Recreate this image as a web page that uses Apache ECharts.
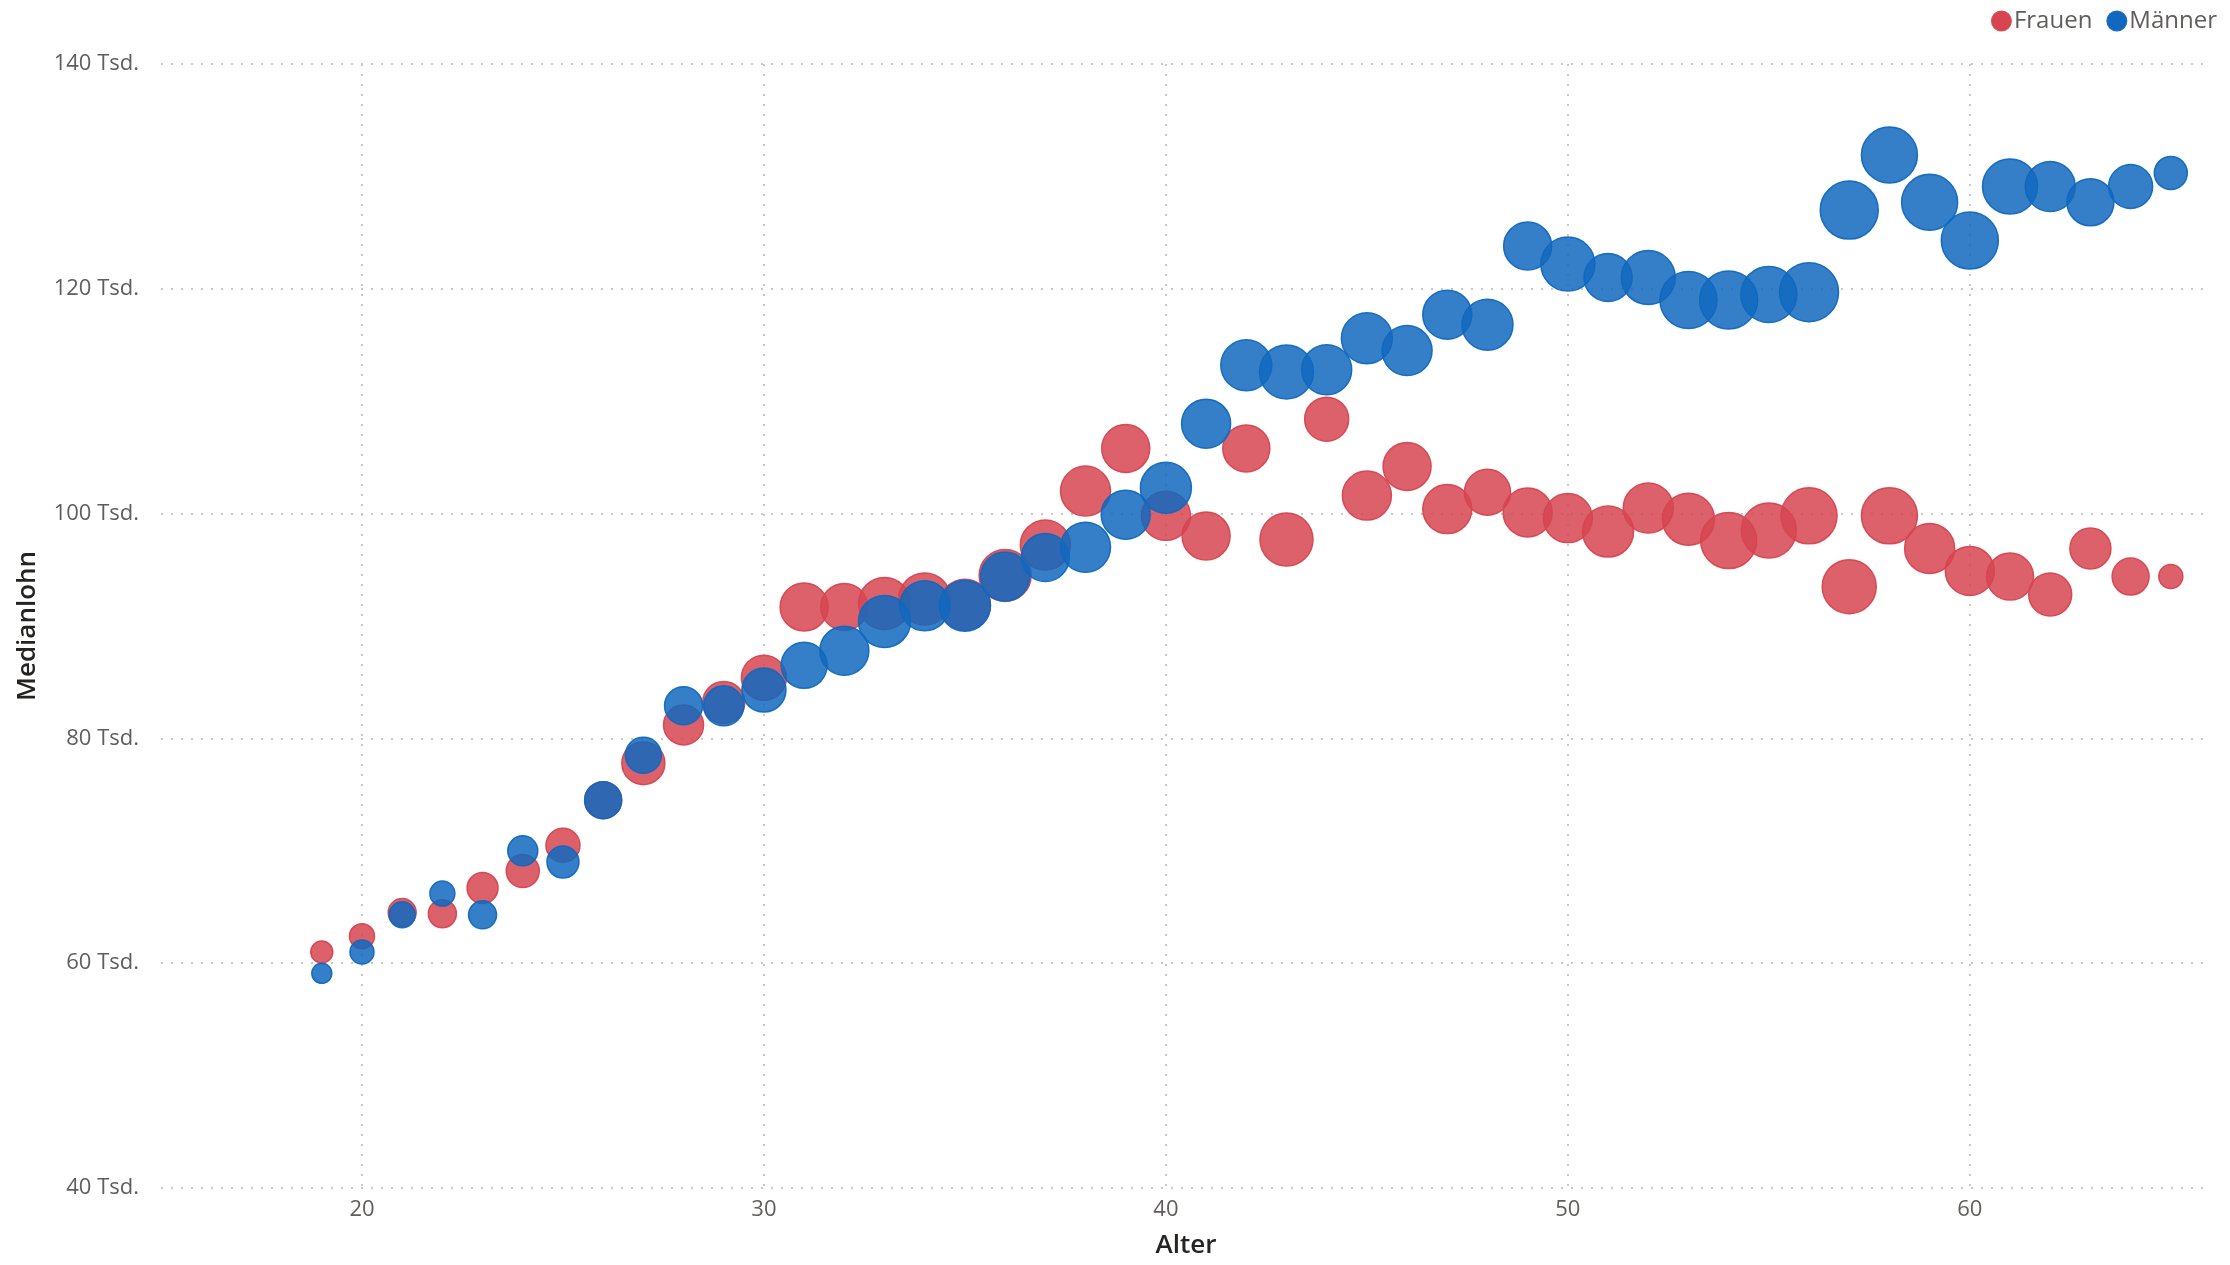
<!DOCTYPE html>
<html>
<head>
<meta charset="utf-8">
<title>Medianlohn nach Alter</title>
<script src="https://cdn.jsdelivr.net/npm/echarts@6/dist/echarts.min.js"></script>
<style>
  html, body { margin: 0; padding: 0; background: #fff; }
  #chart { width: 2230px; height: 1265px; }
</style>
</head>
<body>
<div id="chart"></div>
<script>
// Alter (Jahre)
const alter = [19, 20, 21, 22, 23, 24, 25, 26, 27, 28, 29, 30, 31, 32, 33, 34, 35, 36, 37, 38, 39, 40, 41, 42,
  43, 44, 45, 46, 47, 48, 49, 50, 51, 52, 53, 54, 55, 56, 57, 58, 59, 60, 61, 62, 63, 64, 65]

// Medianlohn in Tsd.
const lohnFrauen = [61.0, 62.4, 64.5, 64.4, 66.7, 68.2, 70.5, 74.5, 77.8, 81.2, 83.2, 85.4, 91.7, 91.7, 92.0, 92.4,
  91.9, 94.5, 97.2, 102.0, 105.8, 99.8, 98.0, 105.8, 97.7, 108.4, 101.6, 104.2, 100.4, 101.9, 100.1, 99.6, 98.4,
  100.5, 99.5, 97.6, 98.5, 99.8, 93.5, 99.8, 96.9, 94.9, 94.4, 92.8, 96.9, 94.4, 94.4]
const lohnMaenner = [59.1, 61.0, 64.3, 66.2, 64.3, 70.0, 69.0, 74.5, 78.5, 82.9, 82.9, 84.3, 86.5, 87.8, 90.4, 91.8,
  91.8, 94.4, 96.1, 97.0, 99.9, 102.3, 108.0, 113.2, 112.6, 112.8, 115.6, 114.5, 117.7, 116.8, 123.8, 122.2, 121.0,
  121.0, 119.0, 119.0, 119.5, 119.7, 127.0, 131.9, 127.7, 124.3, 129.1, 129.1, 127.7, 129.1, 130.3]

// Blasengrösse (relativer Wert, aus dem Bild geschätzt)
const gewichtFrauen = [22, 25, 28, 28, 31, 33, 34, 37, 43, 40, 42, 45, 48, 47, 52, 52, 51, 52, 50, 50, 48, 49, 48, 47,
  53, 44, 49, 48, 49, 46, 49, 49, 51, 50, 52, 56, 55, 56, 54, 56, 50, 49, 47, 43, 41, 37, 24]
const gewichtMaenner = [20, 24, 26, 25, 28, 30, 32, 37, 36, 38, 40, 44, 46, 49, 52, 50, 51, 49, 48, 50, 49, 51, 49, 51,
  54, 50, 51, 50, 49, 51, 48, 54, 48, 54, 57, 58, 56, 59, 58, 56, 56, 57, 55, 50, 47, 44, 33]

const yTicks = [40, 60, 80, 100, 120, 140]

const toPoints = (lohn, gewicht) => alter.map((a, i) => [a, lohn[i], gewicht[i]])

const chart = echarts.init(document.getElementById('chart'))
const font = "'Segoe UI', 'Open Sans', sans-serif"

const option = {
  animation: false,
  backgroundColor: '#ffffff',
  textStyle: { fontFamily: font },
  grid: { left: 161, right: 19, top: 64, bottom: 77, containLabel: false },
  legend: {
    right: 8,
    top: 4,
    icon: 'circle',
    itemWidth: 19,
    itemHeight: 19,
    itemGap: 14,
    textStyle: { fontSize: 24, color: '#605E5C', fontFamily: font, padding: [0, 0, 0, -2] },
    data: [
      { name: 'Frauen', itemStyle: { color: '#D64550', opacity: 1 } },
      { name: 'Männer', itemStyle: { color: '#1168BE', opacity: 1 } }
    ]
  },
  visualMap: {
    show: false,
    type: 'continuous',
    dimension: 2,
    min: 20,
    max: 59,
    inRange: { symbolSize: [20, 59] }
  },
  xAxis: {
    type: 'value',
    name: 'Alter',
    nameLocation: 'middle',
    nameGap: 45,
    nameTextStyle: { fontSize: 26, color: '#252423', fontWeight: 600, fontFamily: font },
    min: 15,
    max: 66,
    splitNumber: 5,
    axisLine: { show: false },
    axisTick: { show: false },
    axisLabel: {
      fontSize: 22,
      color: '#605E5C',
      margin: 11,
      showMinLabel: false,
      showMaxLabel: false
    },
    splitLine: {
      show: true,
      showMinLine: false,
      showMaxLine: false,
      lineStyle: { color: '#C8C8C8', type: [2, 8], width: 2 }
    }
  },
  yAxis: {
    type: 'value',
    name: 'Medianlohn',
    nameLocation: 'middle',
    nameGap: 120,
    nameTextStyle: { fontSize: 26, color: '#252423', fontWeight: 600, fontFamily: font },
    min: yTicks[0],
    max: yTicks[yTicks.length - 1],
    interval: 20,
    axisLine: { show: false },
    axisTick: { show: false },
    axisLabel: {
      fontSize: 22,
      color: '#605E5C',
      margin: 22,
      formatter: v => v + ' Tsd.'
    },
    splitLine: {
      show: true,
      lineStyle: { color: '#C8C8C8', type: [2, 8], width: 2 }
    }
  },
  series: [
    {
      name: 'Frauen',
      type: 'scatter',
      data: toPoints(lohnFrauen, gewichtFrauen),
      itemStyle: {
        opacity: 1,
        color: 'rgba(214,69,80,0.85)',
        borderColor: 'rgba(214,69,80,0.95)',
        borderWidth: 1.5
      }
    },
    {
      name: 'Männer',
      type: 'scatter',
      data: toPoints(lohnMaenner, gewichtMaenner),
      itemStyle: {
        opacity: 1,
        color: 'rgba(17,104,190,0.85)',
        borderColor: 'rgba(17,104,190,0.95)',
        borderWidth: 1.5
      }
    }
  ]
}

chart.setOption(option)
</script>
</body>
</html>
